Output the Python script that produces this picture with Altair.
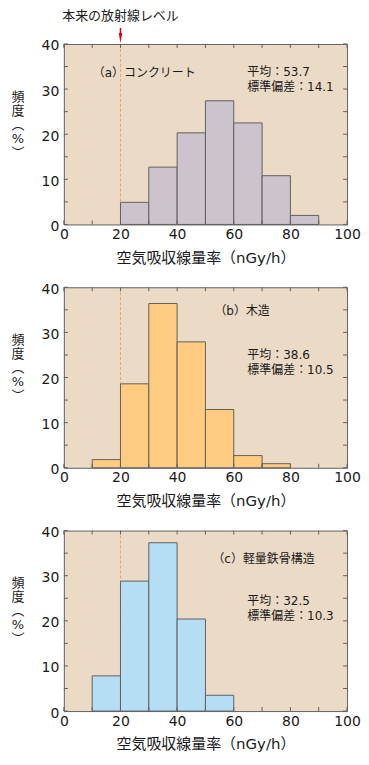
import altair as alt
import pandas as pd

# ---- data ----
bin_width = 10
natural_level = 20

starts_a = [20, 30, 40, 50, 60, 70, 80]
freq_a = [4.9, 12.7, 20.3, 27.4, 22.5, 10.8, 2.0]
starts_b = [10, 20, 30, 40, 50, 60, 70]
freq_b = [1.8, 18.6, 36.4, 27.9, 12.9, 2.7, 0.9]
starts_c = [10, 20, 30, 40, 50]
freq_c = [7.8, 28.8, 37.3, 20.4, 3.5]

labels = ["（a）コンクリート", "（b）木造", "（c）軽量鉄骨構造"]
means = ["53.7", "38.6", "32.5"]
sds = ["14.1", "10.5", "10.3"]

x_tick_labels = [0, 20, 40, 60, 80, 100]
y_tick_labels = [0, 10, 20, 30, 40]
x_ticks = [0, 10, 20, 30, 40, 50, 60, 70, 80, 90, 100]
y_ticks = [0, 5, 10, 15, 20, 25, 30, 35, 40]

x_title = "空気吸収線量率（nGy/h）"
y_title = ["頻", "度", "︵", "%", "︶"]
top_note = "本来の放射線レベル"

W, H = 284, 181
BG = "#EBDBC6"
EDGE = "#606060"
TXT = "#1a1a1a"
FONT = "DejaVu Sans, Noto Sans CJK JP, sans-serif"

xs = alt.Scale(domain=[0, 100], nice=False, zero=False)
ys = alt.Scale(domain=[0, 40], nice=False)


def panel(starts, freqs, color, label, mean, sd, lab_pos, stat_pos, top=False):
    df = pd.DataFrame({"start": starts, "end": [s + bin_width for s in starts], "freq": freqs})
    base_line = alt.Chart(pd.DataFrame({"x": [natural_level]})).mark_rule(
        color="#F0A060", strokeDash=[3, 2], strokeWidth=1
    ).encode(x=alt.X("x:Q", scale=xs), y=alt.value(0), y2=alt.value(H))

    bars = alt.Chart(df).mark_rect(color=color, stroke=EDGE, strokeWidth=1).encode(
        x=alt.X("start:Q", scale=xs,
                axis=alt.Axis(values=x_tick_labels, title=x_title, ticks=False, tickSize=0,
                              domain=False, grid=False, labelFontSize=14, titleFontSize=15,
                              labelPadding=3, titlePadding=9, labelColor=TXT, titleColor=TXT,
                              titleFontWeight="normal", labelFlush=False)),
        x2="end:Q",
        y=alt.Y("freq:Q", scale=ys,
                axis=alt.Axis(values=y_tick_labels, title="", ticks=False, tickSize=0,
                              domain=False, grid=False, labelFontSize=14, labelPadding=5,
                              labelColor=TXT, labelOffset=2, labelFlush=False)),
        y2=alt.datum(0),
    )

    xt = pd.DataFrame({"v": x_ticks})
    yt = pd.DataFrame({"v": y_ticks})
    tick_bottom = alt.Chart(xt).mark_rule(color=EDGE).encode(
        x=alt.X("v:Q", scale=xs), y=alt.value(H), y2=alt.value(H - 4))
    tick_top = alt.Chart(xt).mark_rule(color=EDGE).encode(
        x=alt.X("v:Q", scale=xs), y=alt.value(0), y2=alt.value(4))
    tick_left = alt.Chart(yt).mark_rule(color=EDGE).encode(
        y=alt.Y("v:Q", scale=ys), x=alt.value(0), x2=alt.value(4))
    tick_right = alt.Chart(yt).mark_rule(color=EDGE).encode(
        y=alt.Y("v:Q", scale=ys), x=alt.value(W), x2=alt.value(W - 4))

    lab = alt.Chart(pd.DataFrame({"t": [label]})).mark_text(
        align="left", baseline="middle", fontSize=12, color=TXT
    ).encode(x=alt.value(lab_pos[0]), y=alt.value(lab_pos[1]), text="t:N")
    stats = alt.Chart(pd.DataFrame({"t": [["平均：" + mean, "標準偏差：" + sd]]})).mark_text(
        align="left", baseline="middle", fontSize=12, color=TXT, lineHeight=15
    ).encode(x=alt.value(stat_pos[0]), y=alt.value(stat_pos[1]), text="t:N")

    ytitle = alt.Chart(pd.DataFrame({"t": [y_title]})).mark_text(
        align="center", baseline="middle", fontSize=13, color=TXT, lineHeight=14
    ).encode(x=alt.value(-46), y=alt.value(53), text="t:N")

    layers = [base_line, bars, tick_bottom, tick_top, tick_left, tick_right, lab, stats, ytitle]
    if top:
        arrow_df = pd.DataFrame({"x": [natural_level], "t": [top_note]})
        shaft = alt.Chart(arrow_df).mark_rule(color="#D0021B", strokeWidth=1.5).encode(
            x=alt.X("x:Q", scale=xs), y=alt.value(-16), y2=alt.value(-10))
        head = alt.Chart(arrow_df).mark_point(
            shape="M-0.35,-1L0.35,-1L0,1Z", filled=True, color="#D0021B", size=100, opacity=1
        ).encode(x=alt.X("x:Q", scale=xs), y=alt.value(-6))
        note = alt.Chart(arrow_df).mark_text(
            align="center", baseline="middle", fontSize=13, color=TXT
        ).encode(x=alt.X("x:Q", scale=xs), y=alt.value(-28), text="t:N")
        layers += [shaft, head, note]
    return alt.layer(*layers).properties(width=W, height=H)


pa = panel(starts_a, freq_a, "#CDC3CC", labels[0], means[0], sds[0], (29, 29), (184, 28), top=True)
pb = panel(starts_b, freq_b, "#FECB80", labels[1], means[1], sds[1], (151, 24), (184, 68))
pc = panel(starts_c, freq_c, "#B5DDF4", labels[2], means[2], sds[2], (149, 29), (184, 71))

chart = alt.vconcat(pa, pb, pc, spacing=15).properties(
    padding={"left": 2, "top": 0, "right": 0, "bottom": 0}
).configure(font=FONT).configure_view(fill=BG, stroke=EDGE, strokeWidth=1)

chart.save("out.html", embed_options={"renderer": "svg", "actions": False})
